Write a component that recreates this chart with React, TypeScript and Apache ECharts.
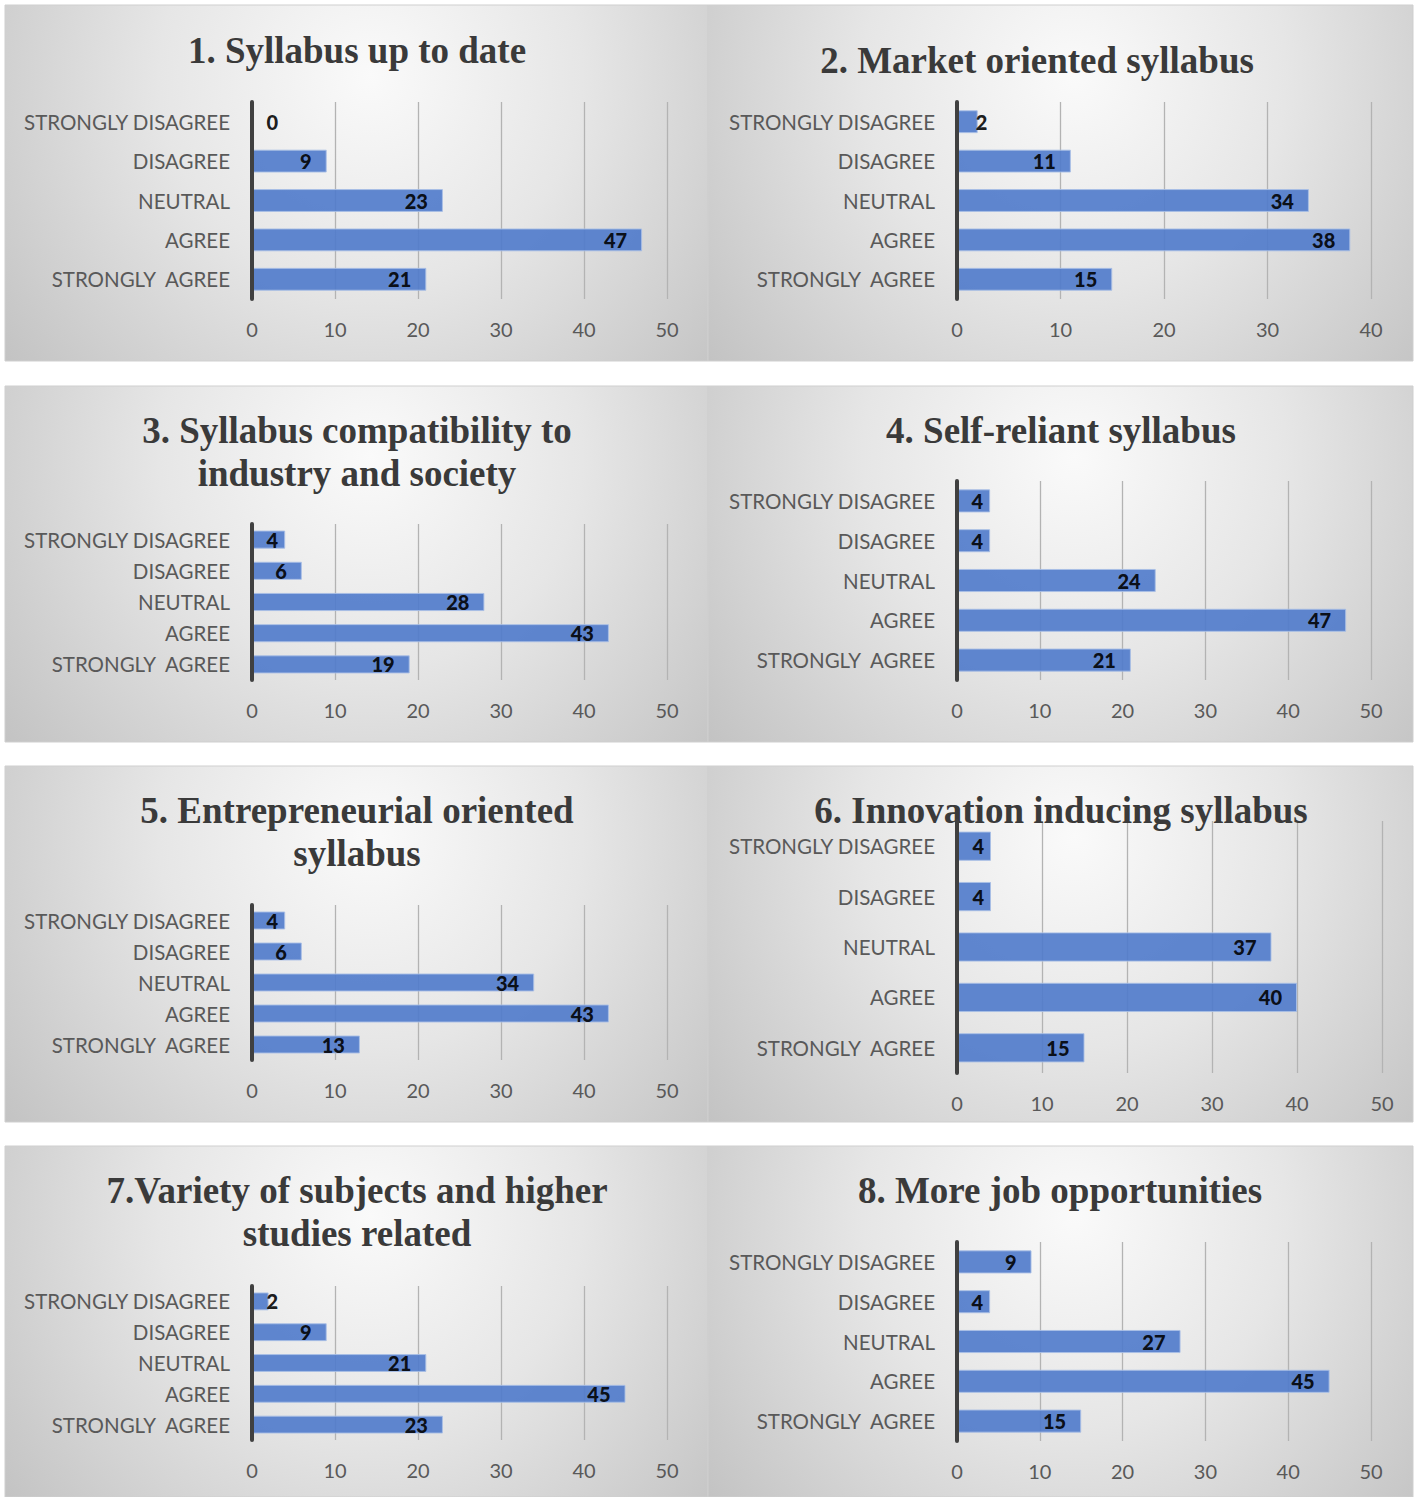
import React, { useEffect, useRef } from "react";
import * as echarts from "echarts";

const CATEGORIES = ["STRONGLY DISAGREE", "DISAGREE", "NEUTRAL", "AGREE", "STRONGLY  AGREE"];

const TITLES = [
  "1. Syllabus up to date",
  "2. Market oriented syllabus",
  "3. Syllabus compatibility to\nindustry and society",
  "4. Self-reliant syllabus",
  "5. Entrepreneurial oriented\nsyllabus",
  "6. Innovation inducing syllabus",
  "7.Variety of subjects and higher\nstudies related",
  "8. More job opportunities",
];

const VALUES_1 = [0, 9, 23, 47, 21];
const VALUES_2 = [2, 11, 34, 38, 15];
const VALUES_3 = [4, 6, 28, 43, 19];
const VALUES_4 = [4, 4, 24, 47, 21];
const VALUES_5 = [4, 6, 34, 43, 13];
const VALUES_6 = [4, 4, 37, 40, 15];
const VALUES_7 = [2, 9, 21, 45, 23];
const VALUES_8 = [9, 4, 27, 45, 15];

const ALL_VALUES = [VALUES_1, VALUES_2, VALUES_3, VALUES_4, VALUES_5, VALUES_6, VALUES_7, VALUES_8];
const AXIS_MAX = [50, 40, 50, 50, 50, 50, 50, 50];
const AXIS_INTERVAL = 10;

// layout: panel rect, title centre, grid extents (pixels)
const LAYOUT = [
  { x: 5, y: 5, w: 703, h: 356, tx: 357, ty: 50, gl: 252, gr: 667, gt: 102, gb: 299 },
  { x: 708, y: 5, w: 705, h: 356, tx: 1037, ty: 60, gl: 957, gr: 1371, gt: 102, gb: 299 },
  { x: 5, y: 386, w: 703, h: 356, tx: 357, ty: 430, gl: 252, gr: 667, gt: 524, gb: 680 },
  { x: 708, y: 386, w: 705, h: 356, tx: 1061, ty: 430, gl: 957, gr: 1371, gt: 481, gb: 680 },
  { x: 5, y: 766, w: 703, h: 356, tx: 357, ty: 810, gl: 252, gr: 667, gt: 905, gb: 1060 },
  { x: 708, y: 766, w: 705, h: 356, tx: 1061, ty: 810, gl: 957, gr: 1382, gt: 821, gb: 1073 },
  { x: 5, y: 1146, w: 703, h: 351, tx: 357, ty: 1190, gl: 252, gr: 667, gt: 1286, gb: 1440 },
  { x: 708, y: 1146, w: 705, h: 351, tx: 1060, ty: 1190, gl: 957, gr: 1371, gt: 1242, gb: 1441 },
];

const TITLE_SIZE = 37;
const TITLE_LH = 43;

function buildOption() {
  const graphic: any[] = [];
  const title: any[] = [];
  const grid: any[] = [];
  const xAxis: any[] = [];
  const yAxis: any[] = [];
  const series: any[] = [];

  LAYOUT.forEach((L, i) => {
    graphic.push({
      type: "rect",
      z: -100,
      shape: { x: L.x, y: L.y, width: L.w, height: L.h },
      style: {
        fill: new echarts.graphic.RadialGradient(
          L.x + L.w * 0.52,
          L.y + 70,
          470,
          [
            { offset: 0, color: "#fafafa" },
            { offset: 0.45, color: "#e6e6e6" },
            { offset: 1, color: "#c2c2c2" },
          ],
          true
        ),
        stroke: "#cfcfcf",
        lineWidth: 1,
      },
      silent: true,
    });

    title.push({
      text: TITLES[i],
      left: L.tx,
      top: L.ty - TITLE_LH / 2,
      textAlign: "center",
      padding: 0,
      z: 1,
      textStyle: {
        fontFamily: "Liberation Serif",
        fontWeight: "bold",
        fontSize: TITLE_SIZE,
        lineHeight: TITLE_LH,
        color: "#3a3a3a",
      },
    });

    grid.push({
      left: L.gl,
      top: L.gt,
      width: L.gr - L.gl,
      height: L.gb - L.gt,
      containLabel: false,
    });

    xAxis.push({
      type: "value",
      gridIndex: i,
      min: 0,
      max: AXIS_MAX[i],
      interval: AXIS_INTERVAL,
      axisLine: { show: false },
      axisTick: { show: false },
      splitLine: { show: true, lineStyle: { color: "#b3b3b3", width: 1.3 } },
      axisLabel: {
        margin: 20,
        fontFamily: "Lato",
        fontSize: 20,
        color: "#595959",
      },
    });

    yAxis.push({
      type: "category",
      gridIndex: i,
      data: CATEGORIES,
      inverse: true,
      z: 10,
      axisLine: { show: true, lineStyle: { color: "#404040", width: 4 } },
      axisTick: { show: false },
      splitLine: { show: false },
      axisLabel: {
        margin: 22,
        fontFamily: "Lato",
        fontSize: 20.5,
        color: "#595959",
      },
    });

    series.push({
      type: "bar",
      xAxisIndex: i,
      yAxisIndex: i,
      barCategoryGap: "42%",
      data: ALL_VALUES[i].map((v) => ({
        value: v,
        label:
          v <= 2
            ? { position: "right", distance: v === 0 ? 14 : -2 }
            : v <= 4
            ? { position: "insideRight", distance: 7 }
            : { position: "insideRight", distance: 15 },
      })),
      itemStyle: {
        color: "#4f7acb",
        opacity: 0.9,
        borderColor: "#a9bfe6",
        borderWidth: 1,
      },
      label: {
        show: true,
        fontFamily: "Lato",
        fontWeight: 900,
        fontSize: 20,
        color: "#000000",
      },
    });
  });

  return {
    animation: false,
    backgroundColor: "#ffffff",
    graphic: { elements: graphic },
    title,
    grid,
    xAxis,
    yAxis,
    series,
  };
}

export default function App() {
  const ref = useRef<HTMLDivElement>(null);
  useEffect(() => {
    if (!ref.current) return;
    const chart = echarts.init(ref.current, undefined, { renderer: "svg" });
    chart.setOption(buildOption() as any);
    return () => chart.dispose();
  }, []);
  return (
    <div
      ref={ref}
      style={{ position: "absolute", left: 0, top: 0, width: 1416, height: 1497 }}
    />
  );
}
